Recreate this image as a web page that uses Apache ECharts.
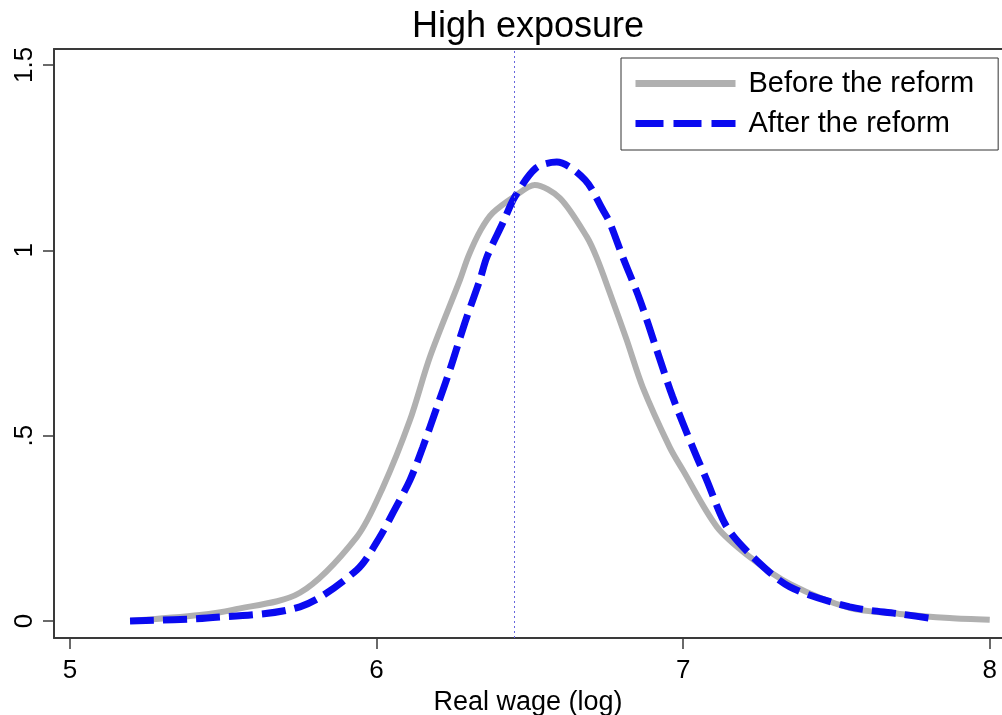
<!DOCTYPE html>
<html>
<head>
<meta charset="utf-8">
<script src="https://cdn.jsdelivr.net/npm/echarts@6/dist/echarts.min.js"></script>
<style>
html,body{margin:0;padding:0;background:#fff;}
#chart{width:1002px;height:715px;}
</style>
</head>
<body>
<div id="chart"></div>
<script>
var titleText = 'High exposure';
var xAxisName = 'Real wage (log)';
var seriesNames = ['Before the reform', 'After the reform'];
var xTicks = [5, 6, 7, 8];
var xTickLabels = ['5', '6', '7', '8'];
var yTicks = [0, 0.5, 1, 1.5];
var yTickLabels = ['0', '.5', '1', '1.5'];
var refLineX = 6.451;

var beforeX = [5.196, 5.424, 5.531, 5.750, 5.936, 6.021, 6.109, 6.174, 6.272, 6.300, 6.340, 6.379, 6.451, 6.516, 6.598, 6.686, 6.718, 6.761, 6.816, 6.868, 6.956, 6.999, 7.110, 7.217, 7.348, 7.543, 7.706, 7.869, 8.000];
var beforeY = [0.000, 0.016, 0.030, 0.076, 0.227, 0.361, 0.542, 0.712, 0.920, 0.985, 1.055, 1.101, 1.146, 1.176, 1.141, 1.036, 0.980, 0.885, 0.758, 0.631, 0.469, 0.407, 0.254, 0.173, 0.100, 0.035, 0.019, 0.008, 0.003];

var afterX = [5.196, 5.447, 5.750, 5.936, 6.011, 6.053, 6.109, 6.151, 6.197, 6.239, 6.288, 6.337, 6.360, 6.412, 6.451, 6.520, 6.588, 6.680, 6.738, 6.761, 6.803, 6.859, 6.914, 6.966, 7.031, 7.077, 7.142, 7.227, 7.348, 7.543, 7.706, 7.827];
var afterY = [0.000, 0.008, 0.038, 0.138, 0.227, 0.291, 0.380, 0.469, 0.577, 0.677, 0.804, 0.920, 0.982, 1.074, 1.144, 1.222, 1.238, 1.190, 1.109, 1.074, 0.982, 0.866, 0.731, 0.604, 0.469, 0.380, 0.254, 0.173, 0.092, 0.038, 0.019, 0.005];

function pairs(xs, ys) { return xs.map(function (x, i) { return [x, ys[i]]; }); }

var FONT = '"Liberation Sans", Arial, sans-serif';
var axisColor = '#3a3a3a';
var grayColor = '#b0b0b0';
var blueColor = '#0a0af0';
var blueDash = [24, 9];

var chart = echarts.init(document.getElementById('chart'));
chart.setOption({
  animation: false,
  backgroundColor: '#fff',
  graphic: [{
    type: 'text',
    x: 528,
    y: 9,
    silent: true,
    style: {
      text: titleText,
      fontFamily: FONT,
      fontSize: 36,
      fill: '#000',
      align: 'center',
      verticalAlign: 'top'
    }
  }],
  legend: {
    orient: 'vertical',
    left: 621,
    top: 58,
    padding: [11, 24, 12, 11],
    itemWidth: 100,
    itemHeight: 28,
    itemGap: 11,
    borderColor: '#333',
    borderWidth: 1,
    borderRadius: 0,
    itemStyle: { opacity: 0 },
    textStyle: { fontFamily: FONT, fontSize: 29, color: '#000', padding: [0, 0, 0, 8] },
    data: [
      { name: seriesNames[0], lineStyle: { color: grayColor, width: 7, type: 'solid' } },
      { name: seriesNames[1], lineStyle: { color: blueColor, width: 7, type: [28, 10] } }
    ]
  },
  grid: { left: 54, right: 0, top: 49, bottom: 77, outerBoundsMode: 'none', containLabel: false },
  xAxis: [{
    type: 'value',
    min: 4.948,
    max: 8.04,
    name: xAxisName,
    nameLocation: 'middle',
    nameGap: 46,
    nameTextStyle: { fontFamily: FONT, fontSize: 27, color: '#000' },
    axisLine: { show: true, onZero: false, lineStyle: { color: axisColor, width: 2 } },
    axisTick: { show: true, length: 11, customValues: xTicks, lineStyle: { color: axisColor, width: 1.5 } },
    axisLabel: {
      customValues: xTicks,
      margin: 20,
      fontFamily: FONT, fontSize: 26, color: '#000',
      formatter: function (v) { var i = xTicks.indexOf(v); return i >= 0 ? xTickLabels[i] : ''; }
    },
    splitLine: { show: false }
  }, {
    type: 'value',
    position: 'top',
    min: 4.948,
    max: 8.04,
    axisLine: { show: true, onZero: false, lineStyle: { color: axisColor, width: 2 } },
    axisTick: { show: false },
    axisLabel: { show: false },
    splitLine: { show: false }
  }],
  yAxis: {
    type: 'value',
    min: -0.046,
    max: 1.543,
    axisLine: { show: true, onZero: false, lineStyle: { color: axisColor, width: 2 } },
    axisTick: { show: true, length: 11, customValues: yTicks, lineStyle: { color: axisColor, width: 1.5 } },
    axisLabel: {
      customValues: yTicks,
      rotate: 90,
      margin: 16,
      fontFamily: FONT, fontSize: 26, color: '#000',
      formatter: function (v) { var i = yTicks.indexOf(v); return i >= 0 ? yTickLabels[i] : ''; }
    },
    splitLine: { show: false }
  },
  series: [{
    name: seriesNames[0],
    type: 'line',
    xAxisIndex: 0,
    data: pairs(beforeX, beforeY),
    showSymbol: false,
    symbol: 'none',
    smooth: 0.3,
    lineStyle: { color: grayColor, width: 6 },
    itemStyle: { color: grayColor },
    z: 2,
    markLine: {
      silent: true,
      symbol: 'none',
      label: { show: false },
      lineStyle: { color: '#6666dd', width: 1, type: [2, 3] },
      data: [{ xAxis: refLineX }]
    }
  }, {
    name: seriesNames[1],
    type: 'line',
    xAxisIndex: 0,
    data: pairs(afterX, afterY),
    showSymbol: false,
    symbol: 'none',
    smooth: 0.3,
    lineStyle: { color: blueColor, width: 7, type: blueDash, cap: 'butt' },
    itemStyle: { color: blueColor },
    z: 3
  }]
});
</script>
</body>
</html>
